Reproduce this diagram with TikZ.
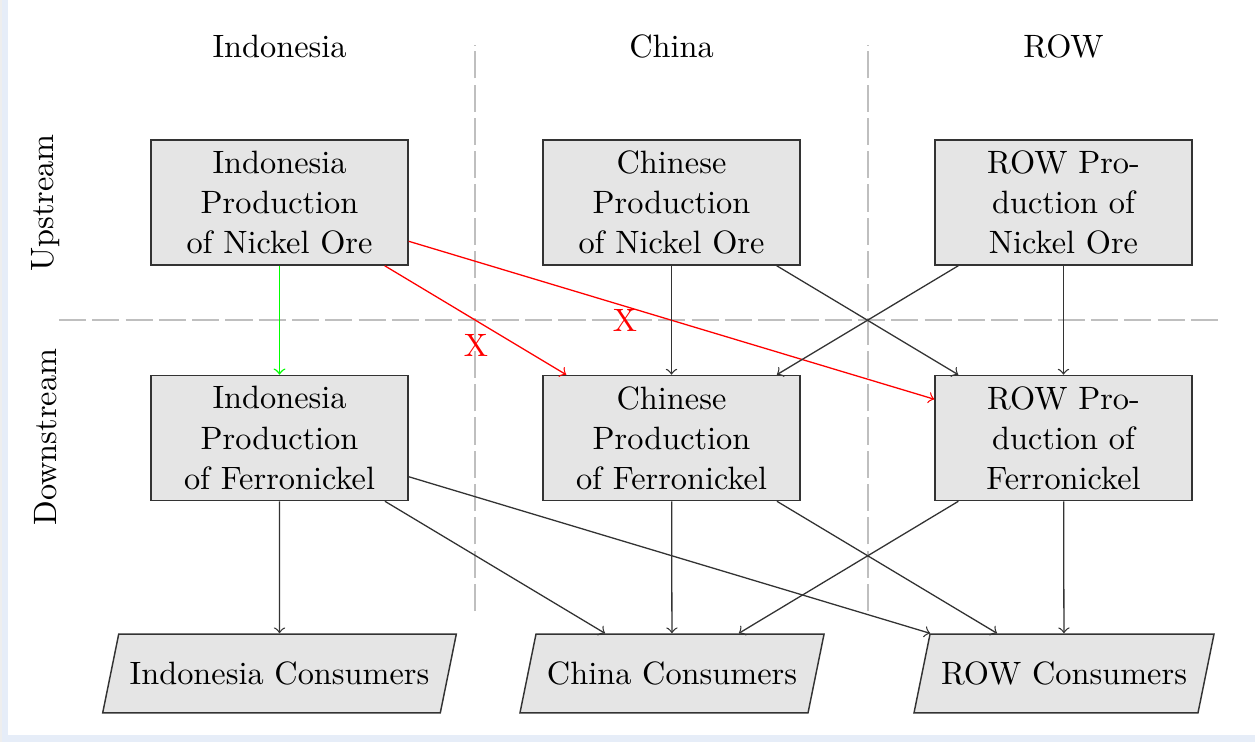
\documentclass[tikz,border=0pt]{standalone}
\usetikzlibrary{shapes.geometric}
\definecolor{framegray}{HTML}{EEEEEE}
\definecolor{frameblue}{HTML}{E6EDF8}
\tikzset{
  prodbox/.style={draw=black!80, fill=gray!20, line width=0.45pt, align=center,
    minimum width=79.5pt, minimum height=38.7pt, inner sep=0pt,
    font=\fontsize{10}{12.4}\selectfont},
  consbox/.style={draw=black!80, fill=gray!20, line width=0.45pt, trapezium,
    trapezium left angle=78.5, trapezium right angle=101.5,
    text height=6.94pt, text depth=0pt, inner xsep=3.4pt, inner ysep=8.73pt,
    font=\fontsize{10}{12.4}\selectfont},
  header/.style={font=\fontsize{10}{12.4}\selectfont},
  sidelabel/.style={font=\fontsize{10}{12.4}\selectfont, rotate=90},
  flow/.style={->, draw=black!80, line width=0.4pt},
  okflow/.style={->, draw=green, line width=0.45pt},
  banflow/.style={->, draw=red, line width=0.4pt},
  banmark/.style={text=red, font=\fontsize{10}{12.4}\selectfont},
  divider/.style={draw=gray!50, line width=0.7pt, dash pattern=on 8.4pt off 1.9pt}
}
\begin{document}
\begin{tikzpicture}[x=0.3094pt, y=-0.3094pt]
\useasboundingbox (0,0) rectangle (1255,742);
% screenshot frame
\fill[framegray] (0,0) rectangle (2,742);
\fill[frameblue] (2,0) rectangle (8,742);
\fill[frameblue] (2,735) rectangle (1255,742);

% dividers
\coordinate (v1b) at (475,611);
\coordinate (v1t) at (475,45);
\coordinate (v2b) at (868,611);
\coordinate (v2t) at (868,45);
\coordinate (hl) at (59,320);
\coordinate (hr) at (1221,320);
\draw[divider] (v1b) -- (v1t);
\draw[divider] (v2b) -- (v2t);
\draw[divider] (hl) -- (hr);

% headers
\node[header] (hInd) at (279.5,46.5) {Indonesia};
\node[header] (hChn) at (671.5,46.5) {China};
\node[header] (hRow) at (1063.5,46.5) {ROW};
\node[sidelabel] (up) at (46,203) {Upstream};
\node[sidelabel] (down) at (46,437) {Downstream};

% upstream
\node[prodbox] (io) at (279.5,202.5) {Indonesia\\Production\\of Nickel Ore};
\node[prodbox] (co) at (671.5,202.5) {Chinese\\Production\\of Nickel Ore};
\node[prodbox] (ro) at (1063.5,202.5) {ROW Pro-\\duction of\\Nickel Ore};

% downstream
\node[prodbox] (if) at (279.5,438) {Indonesia\\Production\\of Ferronickel};
\node[prodbox] (cf) at (671.5,438) {Chinese\\Production\\of Ferronickel};
\node[prodbox] (rf) at (1063.5,438) {ROW Pro-\\duction of\\Ferronickel};

% consumers
\node[consbox] (ic) at (279.5,673.5) {Indonesia Consumers};
\node[consbox] (cc) at (672,673.5) {China Consumers};
\node[consbox] (rc) at (1064,673.5) {ROW Consumers};

% ore flows
\draw[okflow] (io) -- (if);
\draw[banflow] (io) -- (cf);
\draw[banflow] (io) -- (rf);
\draw[flow] (co) -- (cf);
\draw[flow] (co) -- (rf);
\draw[flow] (ro) -- (cf);
\draw[flow] (ro) -- (rf);
\node[banmark] (x1) at (476,345) {X};
\node[banmark] (x2) at (625,320) {X};

% ferronickel flows
\draw[flow] (if) -- (ic);
\draw[flow] (if) -- (cc);
\draw[flow] (if) -- (rc);
\draw[flow] (cf) -- (cc);
\draw[flow] (cf) -- (rc);
\draw[flow] (rf) -- (cc);
\draw[flow] (rf) -- (rc);
\end{tikzpicture}
\end{document}
